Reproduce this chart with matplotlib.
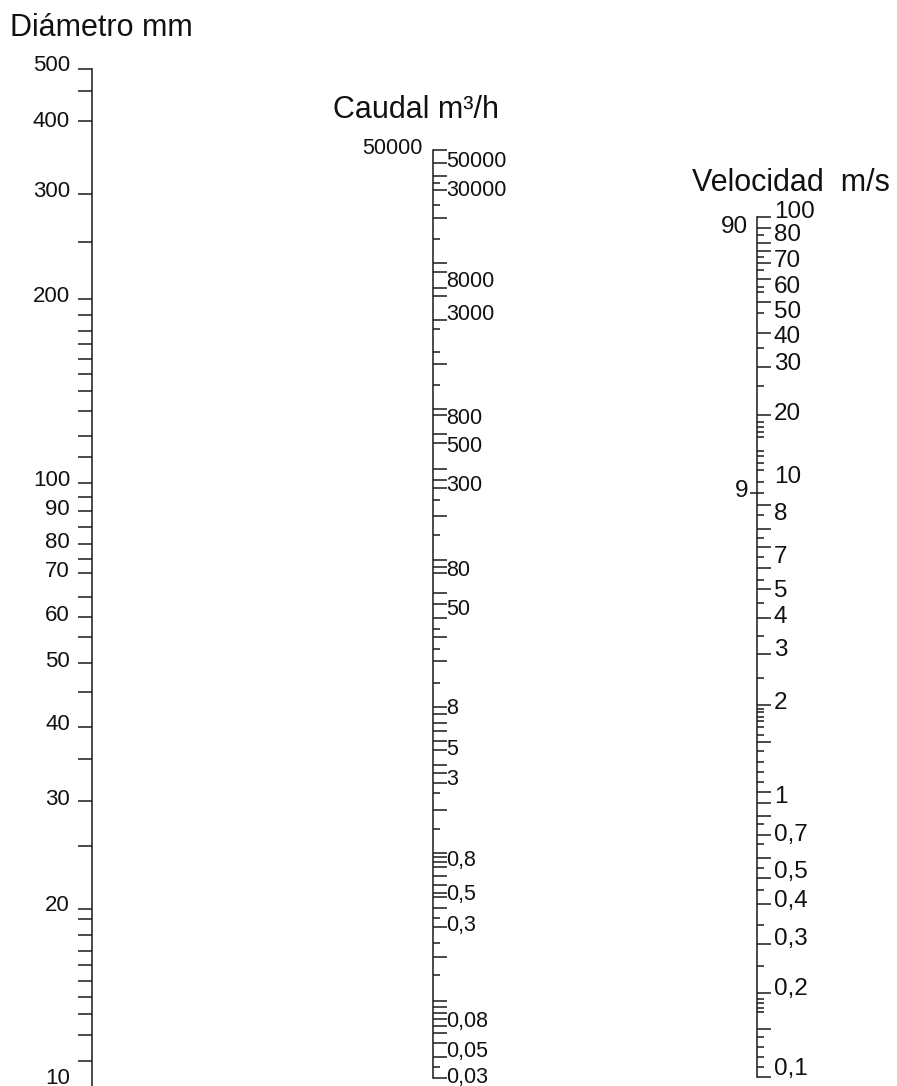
import matplotlib
matplotlib.use('Agg')
import matplotlib.pyplot as plt

plt.rcParams['font.family'] = ['Liberation Sans', 'DejaVu Sans']

# ---------------- data ----------------
# Diámetro (mm) scale
diam_labels = ['500', '400', '300', '200', '100', '90', '80', '70', '60', '50',
               '40', '30', '20', '10']
diam_label_at = [507, 408, 311, 207, 101.5, 90.7, 79.7, 71.2, 60.2, 50.2,
                 39.4, 29.5, 19.5, 9.98]
diam_ticks = [500, 460, 408, 308, 256, 205, 193, 181, 172, 162.5, 153, 143.5,
              133, 120.6, 111, 100.5, 95.2, 90.1, 84.7, 79.3, 74.8, 70.9, 64.6,
              59.8, 55.3, 50, 44.7, 39.0, 34.5, 29.3, 24.6, 19.3, 18.5, 17.4,
              16.4, 15.5, 14.6, 13.7, 12.8, 11.8, 10.7]

# Caudal (m3/h) scale
cau_labels = ['50000', '30000', '8000', '3000', '800', '500', '300', '80', '50',
              '8', '5', '3', '0,8', '0,5', '0,3', '0,08', '0,05', '0,03']
cau_label_at = [41550, 26550, 6513, 3913, 785, 517, 283, 76.2, 41.1, 8.91,
                4.73, 3.02, 0.852, 0.504, 0.317, 0.0709, 0.0446, 0.0303]
cau_left_labels = ['50000']
cau_left_label_at = [50800]
cau_long = [50000, 40700, 33460, 26960, 17580, 8690, 7563, 5907, 5270, 3622,
            1827, 911.6, 835, 622.6, 539.4, 362.6, 306, 269.2, 175.5, 88.96,
            80.2, 72.4, 53.7, 45.3, 36.5, 27.2, 18.6, 9.23, 8.25, 7.18, 6.34,
            5.44, 4.73, 3.75, 3.32, 2.86, 1.87, 0.959, 0.910, 0.835, 0.780,
            0.676, 0.588, 0.522, 0.491, 0.410, 0.309, 0.194, 0.0985, 0.0898,
            0.0811, 0.0739, 0.0669, 0.0595, 0.0510, 0.0415, 0.0297]
cau_short = [29900, 21390, 12650, 3152, 2220, 1327, 223.6, 130.3, 30.6, 22.5,
             13.3, 2.42, 1.40, 0.352, 0.241, 0.146, 0.0356]

# Velocidad (m/s) scale
vel_labels = ['100', '80', '70', '60', '50', '40', '30', '20', '10', '8', '7',
              '5', '4', '3', '2', '1', '0,7', '0,5', '0,4', '0,3', '0,2', '0,1']
vel_label_at = [103.8, 86.1, 69.9, 56.9, 46.5, 38.1, 30.7, 20.6, 12.4, 9.22,
                6.51, 4.95, 4.02, 3.08, 2.01, 0.949, 0.698, 0.520, 0.411, 0.304,
                0.204, 0.107]
vel_left_labels = ['90', '9']
vel_left_label_at = [92.0, 11.1]
vel_long = [100, 91.1, 81.2, 75.9, 69.1, 60.5, 50.5, 39.2, 30.0, 20.4, 9.89,
            8.14, 7.04, 5.95, 5.03, 3.98, 2.98, 1.99, 1.47, 0.99, 0.907, 0.815,
            0.700, 0.580, 0.494, 0.402, 0.292, 0.197, 0.148, 0.1]
vel_short = [86.4, 72.2, 65.2, 57.0, 54.8, 46.1, 34.8, 25.7, 19.3, 18.5, 17.8,
             17.1, 15.2, 14.6, 13.8, 13.1, 11.9, 9.13, 7.57, 6.53, 5.42, 4.49,
             3.46, 2.47, 1.93, 1.87, 1.81, 1.74, 1.67, 1.56, 1.37, 1.26, 1.16,
             1.07, 0.764, 0.649, 0.536, 0.450, 0.340, 0.245, 0.187, 0.181,
             0.175, 0.169, 0.138, 0.128, 0.118, 0.109]
vel_cross = [10.9]

titles = ['Diámetro mm', 'Caudal m³/h', 'Velocidad  m/s']

# ---------------- figure ----------------
W, H = 897, 1086
fig = plt.figure(figsize=(W / 100, H / 100), dpi=100)
INK = '#1a1a1a'
LW = 1.1
PX = 72 / 100  # points per pixel


def make_scale(xpix, ylim, bounds, show_spine=True):
    ax = fig.add_axes([xpix / W, 0, 0.03, 1])
    ax.set_yscale('log')
    ax.set_ylim(*ylim)
    ax.set_xlim(0, 1)
    ax.patch.set_visible(False)
    for s in ['right', 'top', 'bottom']:
        ax.spines[s].set_visible(False)
    ax.spines['left'].set_visible(show_spine)
    ax.spines['left'].set_bounds(*bounds)
    ax.spines['left'].set_color(INK)
    ax.spines['left'].set_linewidth(LW)
    ax.set_xticks([])
    ax.yaxis.set_major_formatter(plt.NullFormatter())
    ax.yaxis.set_minor_formatter(plt.NullFormatter())
    return ax


def put_labels(ax, texts, at, dx, size, ha):
    for t, v in zip(texts, at):
        ax.annotate(t, xy=(0, v), xycoords=('axes fraction', 'data'),
                    xytext=(dx, 0), textcoords='offset pixels',
                    ha=ha, va='center', fontsize=size, color='#111111',
                    annotation_clip=False)


# Diámetro
axd = make_scale(92, (9.70, 653.4), (9.70, 500))
axd.set_yticks(diam_ticks)
axd.set_yticks([], minor=True)
axd.tick_params(axis='y', which='major', direction='out', length=14 * PX,
                width=LW, color=INK)
put_labels(axd, diam_labels, diam_label_at, -22, 16, 'right')

# Caudal
axc = make_scale(433, (0.02638, 507000), (0.0297, 50000))
axc.set_yticks(cau_long)
axc.set_yticks(cau_short, minor=True)
axc.tick_params(axis='y', which='major', direction='in', length=14 * PX,
                width=LW, color=INK)
axc.tick_params(axis='y', which='minor', direction='in', length=7 * PX,
                width=LW, color=INK)
put_labels(axc, cau_labels, cau_label_at, 13, 15.5, 'left')
put_labels(axc, cau_left_labels, cau_left_label_at, -10, 15.5, 'right')

# Velocidad
VEL_LIM = (0.0933, 569.2)
axv = make_scale(757, VEL_LIM, (0.1, 100))
axv.set_yticks(vel_long)
axv.set_yticks(vel_short, minor=True)
axv.tick_params(axis='y', which='major', direction='in', length=14 * PX,
                width=LW, color=INK)
axv.tick_params(axis='y', which='minor', direction='in', length=7 * PX,
                width=LW, color=INK)
put_labels(axv, vel_labels, vel_label_at, 17, 17.5, 'left')
put_labels(axv, vel_left_labels, vel_left_label_at, -9, 17.5, 'right')

# crossing tick on the velocity scale (separate, independent axes)
axx = make_scale(757, VEL_LIM, (0.1, 100), show_spine=False)
axx.set_yticks(vel_cross)
axx.set_yticks([], minor=True)
axx.tick_params(axis='y', which='major', direction='inout', length=14 * PX,
                width=LW, color=INK)

# titles
title_pos = [(10, 28), (333, 110), (692, 183)]
for t, (x, y) in zip(titles, title_pos):
    fig.text(x / W, 1 - y / H, t, ha='left', va='center', fontsize=22,
             color='#111111')

fig.savefig('out.png', dpi=100)
